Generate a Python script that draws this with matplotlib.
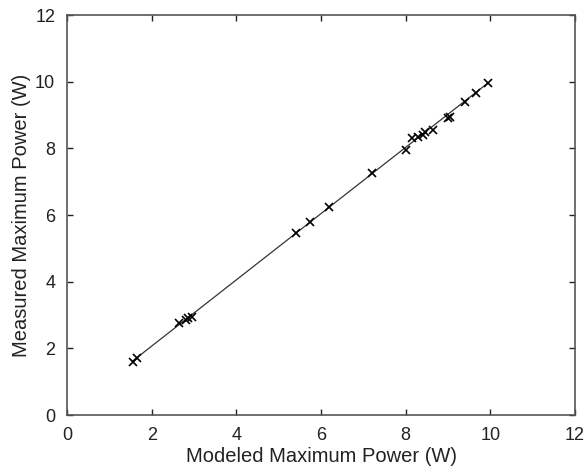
import matplotlib
matplotlib.use("Agg")
import matplotlib.pyplot as plt

modeled = [1.55, 1.65, 2.65, 2.80, 2.85, 2.95, 5.40, 5.75, 6.20, 7.20, 8.00, 8.15, 8.30, 8.40, 8.45, 8.65, 9.00, 9.05, 9.40, 9.65, 9.95]
measured = [1.60, 1.70, 2.75, 2.85, 2.90, 2.95, 5.45, 5.80, 6.25, 7.25, 7.95, 8.30, 8.35, 8.40, 8.50, 8.55, 8.90, 8.95, 9.40, 9.65, 9.95]
fit_x = [1.55, 9.95]
fit_y = [1.62, 9.97]

plt.rcParams['font.family'] = ['Liberation Sans', 'DejaVu Sans']

fig = plt.figure(figsize=(5.85, 4.73), dpi=100)
ax = fig.add_axes([0.1145, 0.1226, 0.8685, 0.8455])

ax.plot(fit_x, fit_y, color='#333333', linewidth=0.9)
ax.plot(modeled, measured, linestyle='none', marker='x', color='black', markersize=6, markeredgewidth=1.2)

ax.set_xlim(0, 12)
ax.set_ylim(0, 12)
ax.set_xticks([0, 2, 4, 6, 8, 10, 12])
ax.set_yticks([0, 2, 4, 6, 8, 10, 12])
ax.tick_params(direction='in', top=True, right=True, labelsize=13, length=4, width=1, colors='#222222')
ax.tick_params(axis='x', pad=8.5)
ax.tick_params(axis='y', pad=8.5)
for s in ax.spines.values():
    s.set_color('#555555')
    s.set_linewidth(1.2)
ax.set_xlabel('Modeled Maximum Power (W)', fontsize=14.5, color='#222222', labelpad=2.5)
ax.set_ylabel('Measured Maximum Power (W)', fontsize=14.5, color='#222222', labelpad=3)

fig.savefig('out.png', dpi=100)
